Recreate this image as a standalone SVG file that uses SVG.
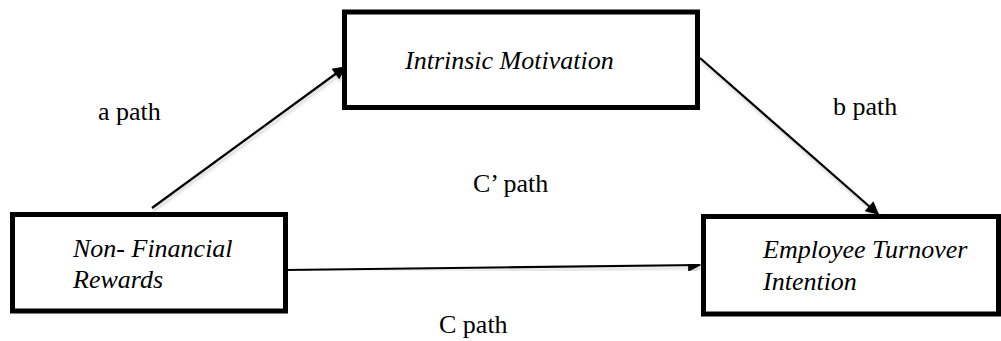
<svg xmlns="http://www.w3.org/2000/svg" width="1001" height="341" viewBox="0 0 1001 341">
<style>
.box{fill:#fff;stroke:#000;stroke-width:5}
.lbl{font-family:'Liberation Serif','DejaVu Serif',serif;font-size:26px;fill:#000}
.it{font-style:italic}
.con{stroke:#000;stroke-width:2.2;fill:none;marker-end:url(#ah);filter:url(#sh)}
</style>
<defs>
<marker id="ah" viewBox="0 0 10 10" refX="9" refY="5" markerWidth="6.5" markerHeight="6" orient="auto" markerUnits="strokeWidth">
<path d="M0,0 L10,5 L0,10 z" fill="#000"/>
</marker>
<filter id="sh" x="-10%" y="-10%" width="120%" height="130%">
<feDropShadow dx="1" dy="3" stdDeviation="1.5" flood-color="#000" flood-opacity="0.18"/>
</filter>
</defs>
<g id="intrinsic">
<rect class="box" x="344.5" y="12" width="353" height="95.5"/>
<text class="lbl it" font-family="Liberation Serif, serif" x="405" y="69">Intrinsic Motivation</text>
</g>
<g id="nonfinancial">
<rect class="box" x="12.5" y="214.5" width="273" height="96.5"/>
<text class="lbl it" font-family="Liberation Serif, serif" x="73" y="257">Non- Financial</text>
<text class="lbl it" font-family="Liberation Serif, serif" x="73" y="288">Rewards</text>
</g>
<g id="employee">
<rect class="box" x="703.5" y="216.5" width="295" height="97.5"/>
<text class="lbl it" font-family="Liberation Serif, serif" x="763" y="258">Employee Turnover</text>
<text class="lbl it" font-family="Liberation Serif, serif" x="763" y="290">Intention</text>
</g>
<g id="connectors">
<line class="con" x1="152" y1="208" x2="345" y2="67"/>
<line class="con" x1="700" y1="58" x2="878" y2="214"/>
<line class="con" x1="285" y1="270" x2="700" y2="265"/>
</g>
<g id="labels">
<text class="lbl" font-family="Liberation Serif, serif" x="98" y="120">a path</text>
<text class="lbl" font-family="Liberation Serif, serif" x="833" y="115">b path</text>
<text class="lbl" font-family="Liberation Serif, serif" x="473" y="192">C’ path</text>
<text class="lbl" font-family="Liberation Serif, serif" x="439" y="333">C path</text>
</g>
</svg>
